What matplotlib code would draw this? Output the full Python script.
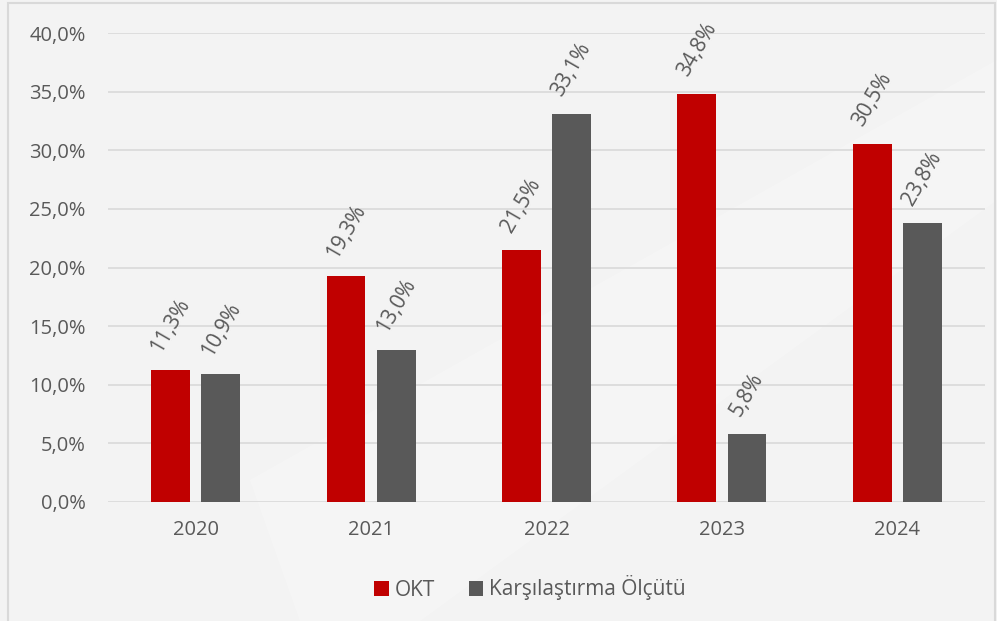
import matplotlib
matplotlib.use("Agg")
import matplotlib.pyplot as plt
from matplotlib.patches import Polygon, Rectangle
from matplotlib.ticker import FuncFormatter, MultipleLocator
import numpy as np

years = ["2020", "2021", "2022", "2023", "2024"]
okt = [11.3, 19.3, 21.5, 34.8, 30.5]
benchmark = [10.9, 13.0, 33.1, 5.8, 23.8]
series_names = ["OKT", "Karşılaştırma Ölçütü"]
colors = ["#C00000", "#595959"]
text_color = "#595959"

plt.rcParams['font.family'] = ['Open Sans', 'DejaVu Sans']

W, H = 997, 621
fig = plt.figure(figsize=(W / 100, H / 100), dpi=100)
fig.patch.set_facecolor("#f3f3f3")

# subtle diagonal light band in background
band = Polygon([(250 / W, 1 - 480 / H), (997 / W, 1 - 60 / H), (997 / W, 1 - 200 / H), (420 / W, 1 - 621 / H), (300 / W, 1 - 621 / H)],
               closed=True, transform=fig.transFigure, facecolor="white", alpha=0.22, edgecolor="none", zorder=0)
fig.patches.append(band)
# chart border
border = Rectangle((8 / W, -0.01), (995 - 8) / W, 1 - 3 / H + 0.01, transform=fig.transFigure,
                   facecolor="none", edgecolor="#d9d9d9", linewidth=1.5, zorder=0)
fig.patches.append(border)

ax = fig.add_axes([108 / W, 1 - 502 / H, (985 - 108) / W, (502 - 33) / H])
ax.set_facecolor("none")
ax.set_zorder(2)

x = np.arange(len(years))
bw = 0.222
off = 0.143
b1 = ax.bar(x - off, okt, bw, color=colors[0], label=series_names[0], zorder=3)
b2 = ax.bar(x + off, benchmark, bw, color=colors[1], label=series_names[1], zorder=3)

for bars, vals in ((b1, okt), (b2, benchmark)):
    for rect, v in zip(bars, vals):
        ax.annotate(f"{v:.1f}%".replace(".", ","), (rect.get_x() + rect.get_width() / 2, rect.get_height()),
                    xytext=(0, 10), textcoords="offset points", ha="center", va="bottom",
                    rotation=60, fontsize=15, color=text_color, zorder=4)

ax.set_xlim(-0.5, len(years) - 0.5)
ax.set_ylim(0, 40)
ax.yaxis.set_major_locator(MultipleLocator(5))
ax.yaxis.set_major_formatter(FuncFormatter(lambda v, p: f"{v:.1f}%".replace(".", ",")))
ax.set_xticks(x)
ax.set_xticklabels(years)
ax.tick_params(axis="both", length=0, labelsize=14.5, labelcolor=text_color)
ax.tick_params(axis="y", pad=16)
ax.tick_params(axis="x", pad=13)
ax.grid(axis="y", color="#d9d9d9", linewidth=1.2, zorder=0)
for s in ax.spines.values():
    s.set_visible(False)

leg = fig.legend(handles=[b1, b2], labels=series_names, loc="center", bbox_to_anchor=(530 / W, 1 - 588 / H),
                 ncol=2, frameon=False, fontsize=15, handlelength=0.7, handleheight=0.7,
                 handletextpad=0.3, columnspacing=1.6)
for t in leg.get_texts():
    t.set_color(text_color)

fig.savefig("out.png", dpi=100, facecolor=fig.get_facecolor())
